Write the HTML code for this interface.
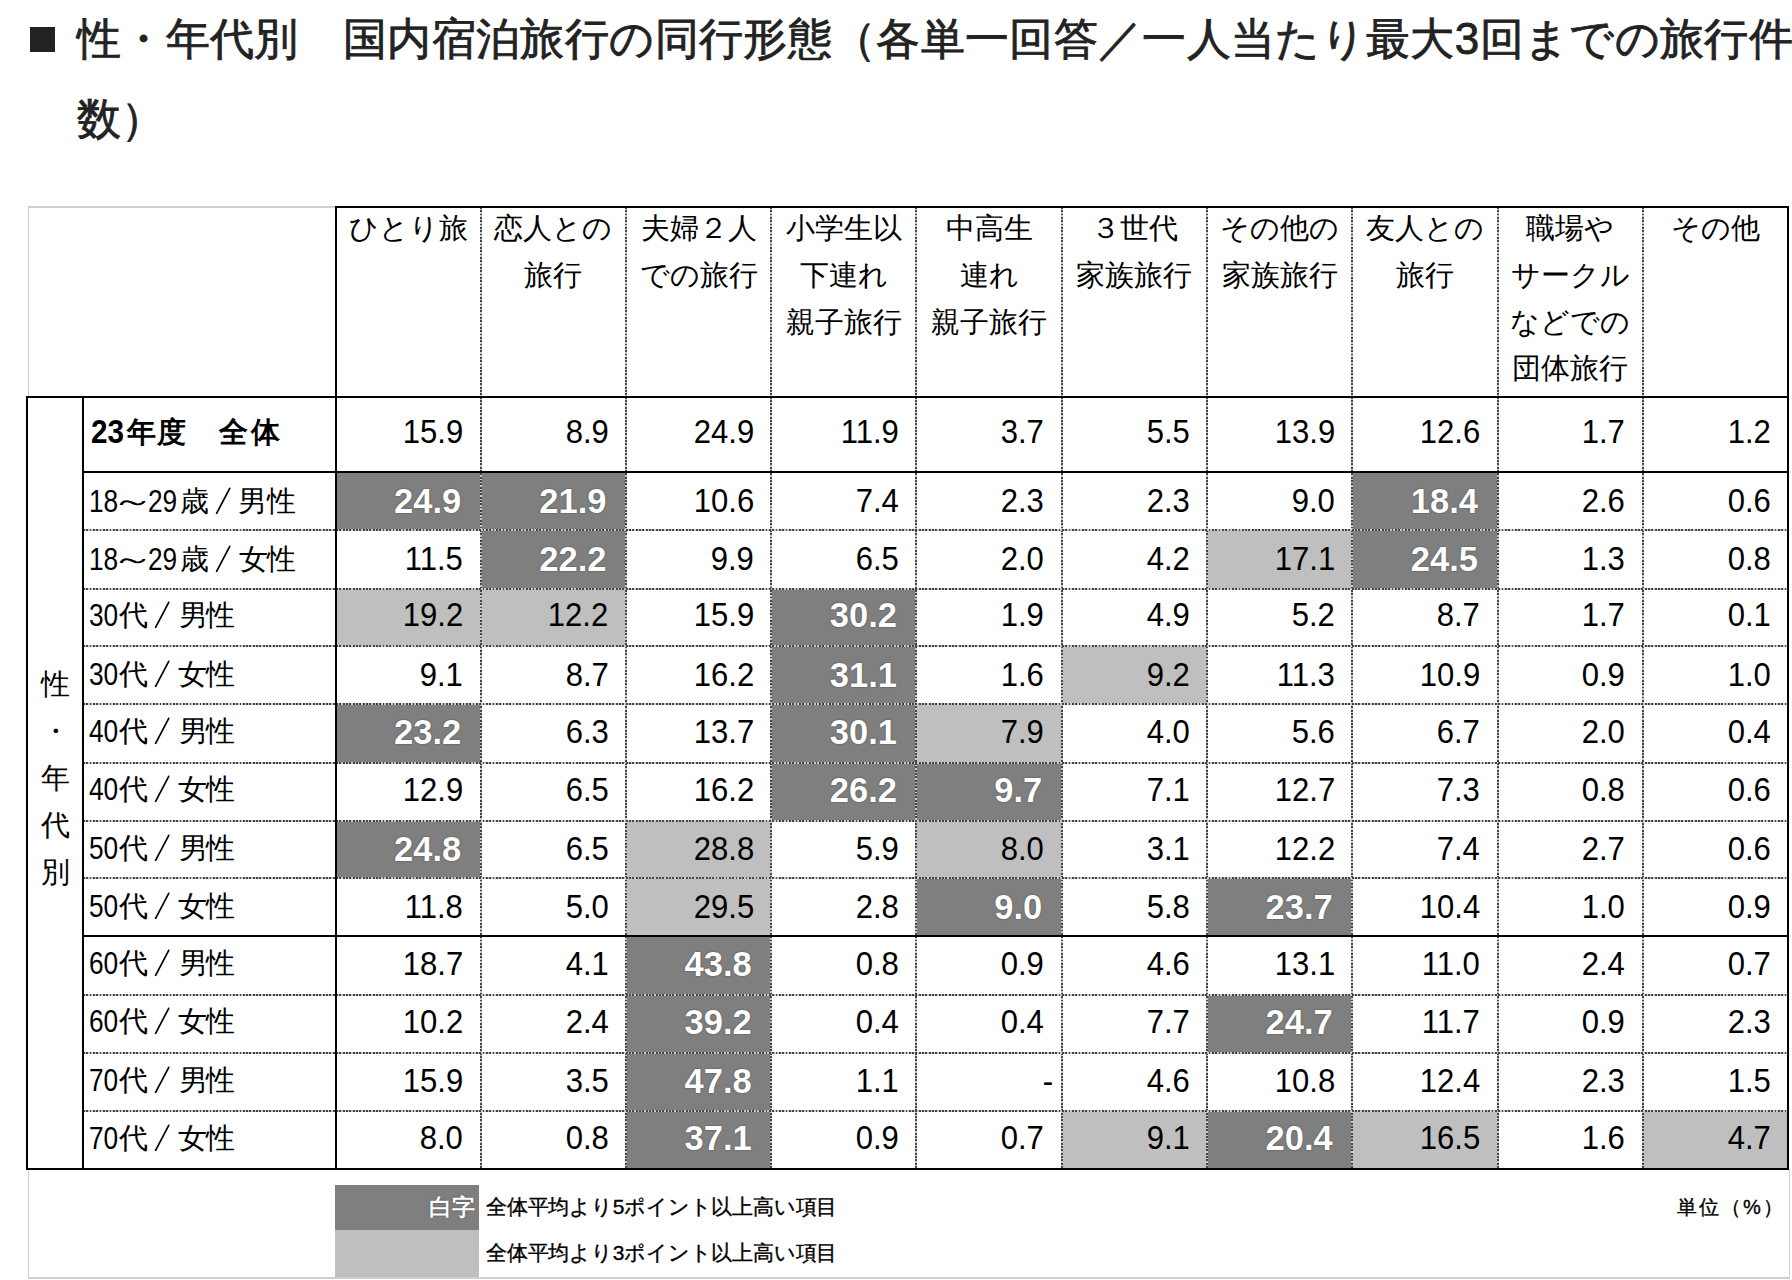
<!DOCTYPE html>
<html><head><meta charset="utf-8"><style>
html,body{margin:0;padding:0;background:#fff;}
body{width:1792px;height:1280px;overflow:hidden;position:relative;font-family:"Liberation Sans",sans-serif;color:#000;}
body>div{position:absolute;}
</style></head><body>
<div style="left:335.5px;top:471.8px;width:145.25px;height:58px;background:#7f7f7f"></div>
<div style="left:480.75px;top:471.8px;width:145.25px;height:58px;background:#7f7f7f"></div>
<div style="left:1352.25px;top:471.8px;width:145.25px;height:58px;background:#7f7f7f"></div>
<div style="left:480.75px;top:529.8px;width:145.25px;height:58.95px;background:#7f7f7f"></div>
<div style="left:1207px;top:529.8px;width:145.25px;height:58.95px;background:#bfbfbf"></div>
<div style="left:1352.25px;top:529.8px;width:145.25px;height:58.95px;background:#7f7f7f"></div>
<div style="left:335.5px;top:588.75px;width:145.25px;height:57.5px;background:#bfbfbf"></div>
<div style="left:480.75px;top:588.75px;width:145.25px;height:57.5px;background:#bfbfbf"></div>
<div style="left:771.25px;top:588.75px;width:145.25px;height:57.5px;background:#7f7f7f"></div>
<div style="left:771.25px;top:646.25px;width:145.25px;height:57.35px;background:#7f7f7f"></div>
<div style="left:1061.75px;top:646.25px;width:145.25px;height:57.35px;background:#bfbfbf"></div>
<div style="left:335.5px;top:703.6px;width:145.25px;height:59px;background:#7f7f7f"></div>
<div style="left:771.25px;top:703.6px;width:145.25px;height:59px;background:#7f7f7f"></div>
<div style="left:916.5px;top:703.6px;width:145.25px;height:59px;background:#bfbfbf"></div>
<div style="left:771.25px;top:762.6px;width:145.25px;height:58.2px;background:#7f7f7f"></div>
<div style="left:916.5px;top:762.6px;width:145.25px;height:58.2px;background:#7f7f7f"></div>
<div style="left:335.5px;top:820.8px;width:145.25px;height:57.6px;background:#7f7f7f"></div>
<div style="left:626px;top:820.8px;width:145.25px;height:57.6px;background:#bfbfbf"></div>
<div style="left:916.5px;top:820.8px;width:145.25px;height:57.6px;background:#bfbfbf"></div>
<div style="left:626px;top:878.4px;width:145.25px;height:58.1px;background:#bfbfbf"></div>
<div style="left:916.5px;top:878.4px;width:145.25px;height:58.1px;background:#7f7f7f"></div>
<div style="left:1207px;top:878.4px;width:145.25px;height:58.1px;background:#7f7f7f"></div>
<div style="left:626px;top:936.5px;width:145.25px;height:58.6px;background:#7f7f7f"></div>
<div style="left:626px;top:995.1px;width:145.25px;height:57.6px;background:#7f7f7f"></div>
<div style="left:1207px;top:995.1px;width:145.25px;height:57.6px;background:#7f7f7f"></div>
<div style="left:626px;top:1052.7px;width:145.25px;height:58.1px;background:#7f7f7f"></div>
<div style="left:626px;top:1110.8px;width:145.25px;height:58px;background:#7f7f7f"></div>
<div style="left:1061.75px;top:1110.8px;width:145.25px;height:58px;background:#bfbfbf"></div>
<div style="left:1207px;top:1110.8px;width:145.25px;height:58px;background:#7f7f7f"></div>
<div style="left:1352.25px;top:1110.8px;width:145.25px;height:58px;background:#bfbfbf"></div>
<div style="left:1642.75px;top:1110.8px;width:145.25px;height:58px;background:#bfbfbf"></div>
<div style="left:335px;top:1185px;width:144px;height:44.5px;background:#7f7f7f"></div>
<div style="left:335px;top:1229.5px;width:144px;height:47.5px;background:#bfbfbf"></div>
<div style="left:27.5px;top:206px;width:1.5px;height:191px;background:#cfcfcf"></div>
<div style="left:27.5px;top:206px;width:308px;height:1.5px;background:#cfcfcf"></div>
<div style="left:27.5px;top:1169px;width:1.5px;height:109.5px;background:#cfcfcf"></div>
<div style="left:27.5px;top:1277px;width:1762px;height:2px;background:#cfcfcf"></div>
<div style="left:1788.5px;top:1169px;width:1.5px;height:109.5px;background:#cfcfcf"></div>
<div style="left:480px;top:207px;width:2px;height:962px;background:repeating-linear-gradient(to bottom,#444 0,#444 1.8px,#c8c8c8 1.8px,#c8c8c8 3.33px)"></div>
<div style="left:625px;top:207px;width:2px;height:962px;background:repeating-linear-gradient(to bottom,#444 0,#444 1.8px,#c8c8c8 1.8px,#c8c8c8 3.33px)"></div>
<div style="left:770px;top:207px;width:2px;height:962px;background:repeating-linear-gradient(to bottom,#444 0,#444 1.8px,#c8c8c8 1.8px,#c8c8c8 3.33px)"></div>
<div style="left:915px;top:207px;width:2px;height:962px;background:repeating-linear-gradient(to bottom,#444 0,#444 1.8px,#c8c8c8 1.8px,#c8c8c8 3.33px)"></div>
<div style="left:1061px;top:207px;width:2px;height:962px;background:repeating-linear-gradient(to bottom,#444 0,#444 1.8px,#c8c8c8 1.8px,#c8c8c8 3.33px)"></div>
<div style="left:1206px;top:207px;width:2px;height:962px;background:repeating-linear-gradient(to bottom,#444 0,#444 1.8px,#c8c8c8 1.8px,#c8c8c8 3.33px)"></div>
<div style="left:1351px;top:207px;width:2px;height:962px;background:repeating-linear-gradient(to bottom,#444 0,#444 1.8px,#c8c8c8 1.8px,#c8c8c8 3.33px)"></div>
<div style="left:1497px;top:207px;width:2px;height:962px;background:repeating-linear-gradient(to bottom,#444 0,#444 1.8px,#c8c8c8 1.8px,#c8c8c8 3.33px)"></div>
<div style="left:1642px;top:207px;width:2px;height:962px;background:repeating-linear-gradient(to bottom,#444 0,#444 1.8px,#c8c8c8 1.8px,#c8c8c8 3.33px)"></div>
<div style="left:83px;top:529px;width:1704px;height:2px;background:repeating-linear-gradient(to right,#444 0,#444 1.8px,#c8c8c8 1.8px,#c8c8c8 3.33px)"></div>
<div style="left:83px;top:588px;width:1704px;height:2px;background:repeating-linear-gradient(to right,#444 0,#444 1.8px,#c8c8c8 1.8px,#c8c8c8 3.33px)"></div>
<div style="left:83px;top:645px;width:1704px;height:2px;background:repeating-linear-gradient(to right,#444 0,#444 1.8px,#c8c8c8 1.8px,#c8c8c8 3.33px)"></div>
<div style="left:83px;top:703px;width:1704px;height:2px;background:repeating-linear-gradient(to right,#444 0,#444 1.8px,#c8c8c8 1.8px,#c8c8c8 3.33px)"></div>
<div style="left:83px;top:762px;width:1704px;height:2px;background:repeating-linear-gradient(to right,#444 0,#444 1.8px,#c8c8c8 1.8px,#c8c8c8 3.33px)"></div>
<div style="left:83px;top:820px;width:1704px;height:2px;background:repeating-linear-gradient(to right,#444 0,#444 1.8px,#c8c8c8 1.8px,#c8c8c8 3.33px)"></div>
<div style="left:83px;top:877px;width:1704px;height:2px;background:repeating-linear-gradient(to right,#444 0,#444 1.8px,#c8c8c8 1.8px,#c8c8c8 3.33px)"></div>
<div style="left:83px;top:994px;width:1704px;height:2px;background:repeating-linear-gradient(to right,#444 0,#444 1.8px,#c8c8c8 1.8px,#c8c8c8 3.33px)"></div>
<div style="left:83px;top:1052px;width:1704px;height:2px;background:repeating-linear-gradient(to right,#444 0,#444 1.8px,#c8c8c8 1.8px,#c8c8c8 3.33px)"></div>
<div style="left:83px;top:1110px;width:1704px;height:2px;background:repeating-linear-gradient(to right,#444 0,#444 1.8px,#c8c8c8 1.8px,#c8c8c8 3.33px)"></div>
<div style="left:334.5px;top:205.5px;width:2px;height:964.5px;background:#000"></div>
<div style="left:1787px;top:205.5px;width:2px;height:964.5px;background:#000"></div>
<div style="left:334.5px;top:205.5px;width:1454.5px;height:2px;background:#000"></div>
<div style="left:26px;top:396px;width:1763px;height:2px;background:#000"></div>
<div style="left:26px;top:396px;width:2px;height:774px;background:#000"></div>
<div style="left:81.5px;top:396px;width:2px;height:774px;background:#000"></div>
<div style="left:82px;top:471px;width:1706px;height:2px;background:#000"></div>
<div style="left:82px;top:935px;width:1706px;height:2px;background:#000"></div>
<div style="left:26px;top:1168px;width:1763px;height:2px;background:#000"></div>
<div style="left:335.5px;top:205.2px;width:145.25px;height:46.7px;line-height:46.7px;text-align:center;font-size:29px;white-space:nowrap">ひとり旅</div>
<div style="left:480.75px;top:205.2px;width:145.25px;height:46.7px;line-height:46.7px;text-align:center;font-size:29px;white-space:nowrap">恋人との</div>
<div style="left:480.75px;top:251.9px;width:145.25px;height:46.7px;line-height:46.7px;text-align:center;font-size:29px;white-space:nowrap">旅行</div>
<div style="left:626px;top:205.2px;width:145.25px;height:46.7px;line-height:46.7px;text-align:center;font-size:29px;white-space:nowrap">夫婦２人</div>
<div style="left:626px;top:251.9px;width:145.25px;height:46.7px;line-height:46.7px;text-align:center;font-size:29px;white-space:nowrap">での旅行</div>
<div style="left:771.25px;top:205.2px;width:145.25px;height:46.7px;line-height:46.7px;text-align:center;font-size:29px;white-space:nowrap">小学生以</div>
<div style="left:771.25px;top:251.9px;width:145.25px;height:46.7px;line-height:46.7px;text-align:center;font-size:29px;white-space:nowrap">下連れ</div>
<div style="left:771.25px;top:298.6px;width:145.25px;height:46.7px;line-height:46.7px;text-align:center;font-size:29px;white-space:nowrap">親子旅行</div>
<div style="left:916.5px;top:205.2px;width:145.25px;height:46.7px;line-height:46.7px;text-align:center;font-size:29px;white-space:nowrap">中高生</div>
<div style="left:916.5px;top:251.9px;width:145.25px;height:46.7px;line-height:46.7px;text-align:center;font-size:29px;white-space:nowrap">連れ</div>
<div style="left:916.5px;top:298.6px;width:145.25px;height:46.7px;line-height:46.7px;text-align:center;font-size:29px;white-space:nowrap">親子旅行</div>
<div style="left:1061.75px;top:205.2px;width:145.25px;height:46.7px;line-height:46.7px;text-align:center;font-size:29px;white-space:nowrap">３世代</div>
<div style="left:1061.75px;top:251.9px;width:145.25px;height:46.7px;line-height:46.7px;text-align:center;font-size:29px;white-space:nowrap">家族旅行</div>
<div style="left:1207px;top:205.2px;width:145.25px;height:46.7px;line-height:46.7px;text-align:center;font-size:29px;white-space:nowrap">その他の</div>
<div style="left:1207px;top:251.9px;width:145.25px;height:46.7px;line-height:46.7px;text-align:center;font-size:29px;white-space:nowrap">家族旅行</div>
<div style="left:1352.25px;top:205.2px;width:145.25px;height:46.7px;line-height:46.7px;text-align:center;font-size:29px;white-space:nowrap">友人との</div>
<div style="left:1352.25px;top:251.9px;width:145.25px;height:46.7px;line-height:46.7px;text-align:center;font-size:29px;white-space:nowrap">旅行</div>
<div style="left:1497.5px;top:205.2px;width:145.25px;height:46.7px;line-height:46.7px;text-align:center;font-size:29px;white-space:nowrap">職場や</div>
<div style="left:1497.5px;top:251.9px;width:145.25px;height:46.7px;line-height:46.7px;text-align:center;font-size:29px;white-space:nowrap">サークル</div>
<div style="left:1497.5px;top:298.6px;width:145.25px;height:46.7px;line-height:46.7px;text-align:center;font-size:29px;white-space:nowrap">などでの</div>
<div style="left:1497.5px;top:345.3px;width:145.25px;height:46.7px;line-height:46.7px;text-align:center;font-size:29px;white-space:nowrap">団体旅行</div>
<div style="left:1642.75px;top:205.2px;width:145.25px;height:46.7px;line-height:46.7px;text-align:center;font-size:29px;white-space:nowrap">その他</div>
<div style="left:90.75px;top:401.65px;width:200px;height:60px;line-height:60px;font-size:33px;font-weight:bold;transform:scaleX(0.9);transform-origin:0 50%;white-space:pre">23</div>
<div style="left:127.4px;top:401.65px;width:200px;height:60px;line-height:60px;font-size:29px;font-weight:bold;white-space:pre">年</div>
<div style="left:156.5px;top:401.65px;width:200px;height:60px;line-height:60px;font-size:29px;font-weight:bold;white-space:pre">度</div>
<div style="left:219.1px;top:401.65px;width:200px;height:60px;line-height:60px;font-size:29px;font-weight:bold;white-space:pre">全</div>
<div style="left:251px;top:401.65px;width:200px;height:60px;line-height:60px;font-size:29px;font-weight:bold;white-space:pre">体</div>
<div style="left:335.5px;top:402.15px;width:127.75px;height:60px;line-height:60px;text-align:right;font-size:33px;"><span style="display:inline-block;transform:scaleX(0.94);transform-origin:100% 50%">15.9</span></div>
<div style="left:480.75px;top:402.15px;width:127.75px;height:60px;line-height:60px;text-align:right;font-size:33px;"><span style="display:inline-block;transform:scaleX(0.94);transform-origin:100% 50%">8.9</span></div>
<div style="left:626px;top:402.15px;width:127.75px;height:60px;line-height:60px;text-align:right;font-size:33px;"><span style="display:inline-block;transform:scaleX(0.94);transform-origin:100% 50%">24.9</span></div>
<div style="left:771.25px;top:402.15px;width:127.75px;height:60px;line-height:60px;text-align:right;font-size:33px;"><span style="display:inline-block;transform:scaleX(0.94);transform-origin:100% 50%">11.9</span></div>
<div style="left:916.5px;top:402.15px;width:127.75px;height:60px;line-height:60px;text-align:right;font-size:33px;"><span style="display:inline-block;transform:scaleX(0.94);transform-origin:100% 50%">3.7</span></div>
<div style="left:1061.75px;top:402.15px;width:127.75px;height:60px;line-height:60px;text-align:right;font-size:33px;"><span style="display:inline-block;transform:scaleX(0.94);transform-origin:100% 50%">5.5</span></div>
<div style="left:1207px;top:402.15px;width:127.75px;height:60px;line-height:60px;text-align:right;font-size:33px;"><span style="display:inline-block;transform:scaleX(0.94);transform-origin:100% 50%">13.9</span></div>
<div style="left:1352.25px;top:402.15px;width:127.75px;height:60px;line-height:60px;text-align:right;font-size:33px;"><span style="display:inline-block;transform:scaleX(0.94);transform-origin:100% 50%">12.6</span></div>
<div style="left:1497.5px;top:402.15px;width:127.75px;height:60px;line-height:60px;text-align:right;font-size:33px;"><span style="display:inline-block;transform:scaleX(0.94);transform-origin:100% 50%">1.7</span></div>
<div style="left:1642.75px;top:402.15px;width:127.75px;height:60px;line-height:60px;text-align:right;font-size:33px;"><span style="display:inline-block;transform:scaleX(0.94);transform-origin:100% 50%">1.2</span></div>
<div style="left:88.8px;top:470.75px;width:200px;height:60px;line-height:60px;font-size:32px;transform:scaleX(0.82);transform-origin:0 50%;white-space:pre">18</div>
<div style="left:111.2px;top:470.75px;width:200px;height:60px;line-height:60px;font-size:29px;transform:scaleX(1.5);transform-origin:0 50%;white-space:pre">～</div>
<div style="left:148.2px;top:470.75px;width:200px;height:60px;line-height:60px;font-size:32px;transform:scaleX(0.82);transform-origin:0 50%;white-space:pre">29</div>
<div style="left:179.8px;top:470.75px;width:200px;height:60px;line-height:60px;font-size:29px;white-space:pre">歳</div>
<div style="left:213.7px;top:484.75px;width:20px;height:32px"><svg width="20" height="32" style="display:block"><line x1="2.6" y1="28.35" x2="15.75" y2="3.35" stroke="#000" stroke-width="1.7" stroke-linecap="round"/></svg></div>
<div style="left:237.6px;top:470.75px;width:200px;height:60px;line-height:60px;font-size:29px;white-space:pre">男</div>
<div style="left:267px;top:470.75px;width:200px;height:60px;line-height:60px;font-size:29px;white-space:pre">性</div>
<div style="left:335.5px;top:471.25px;width:125.75px;height:60px;line-height:60px;text-align:right;font-size:34.5px;color:#fff;font-weight:bold;text-shadow:0 0 1.5px #333;"><span style="display:inline-block;transform:scaleX(1.0);transform-origin:100% 50%">24.9</span></div>
<div style="left:480.75px;top:471.25px;width:125.75px;height:60px;line-height:60px;text-align:right;font-size:34.5px;color:#fff;font-weight:bold;text-shadow:0 0 1.5px #333;"><span style="display:inline-block;transform:scaleX(1.0);transform-origin:100% 50%">21.9</span></div>
<div style="left:626px;top:471.25px;width:127.75px;height:60px;line-height:60px;text-align:right;font-size:33px;"><span style="display:inline-block;transform:scaleX(0.94);transform-origin:100% 50%">10.6</span></div>
<div style="left:771.25px;top:471.25px;width:127.75px;height:60px;line-height:60px;text-align:right;font-size:33px;"><span style="display:inline-block;transform:scaleX(0.94);transform-origin:100% 50%">7.4</span></div>
<div style="left:916.5px;top:471.25px;width:127.75px;height:60px;line-height:60px;text-align:right;font-size:33px;"><span style="display:inline-block;transform:scaleX(0.94);transform-origin:100% 50%">2.3</span></div>
<div style="left:1061.75px;top:471.25px;width:127.75px;height:60px;line-height:60px;text-align:right;font-size:33px;"><span style="display:inline-block;transform:scaleX(0.94);transform-origin:100% 50%">2.3</span></div>
<div style="left:1207px;top:471.25px;width:127.75px;height:60px;line-height:60px;text-align:right;font-size:33px;"><span style="display:inline-block;transform:scaleX(0.94);transform-origin:100% 50%">9.0</span></div>
<div style="left:1352.25px;top:471.25px;width:125.75px;height:60px;line-height:60px;text-align:right;font-size:34.5px;color:#fff;font-weight:bold;text-shadow:0 0 1.5px #333;"><span style="display:inline-block;transform:scaleX(1.0);transform-origin:100% 50%">18.4</span></div>
<div style="left:1497.5px;top:471.25px;width:127.75px;height:60px;line-height:60px;text-align:right;font-size:33px;"><span style="display:inline-block;transform:scaleX(0.94);transform-origin:100% 50%">2.6</span></div>
<div style="left:1642.75px;top:471.25px;width:127.75px;height:60px;line-height:60px;text-align:right;font-size:33px;"><span style="display:inline-block;transform:scaleX(0.94);transform-origin:100% 50%">0.6</span></div>
<div style="left:88.8px;top:528.8px;width:200px;height:60px;line-height:60px;font-size:32px;transform:scaleX(0.82);transform-origin:0 50%;white-space:pre">18</div>
<div style="left:111.2px;top:528.8px;width:200px;height:60px;line-height:60px;font-size:29px;transform:scaleX(1.5);transform-origin:0 50%;white-space:pre">～</div>
<div style="left:148.2px;top:528.8px;width:200px;height:60px;line-height:60px;font-size:32px;transform:scaleX(0.82);transform-origin:0 50%;white-space:pre">29</div>
<div style="left:179.8px;top:528.8px;width:200px;height:60px;line-height:60px;font-size:29px;white-space:pre">歳</div>
<div style="left:213.7px;top:542.8px;width:20px;height:32px"><svg width="20" height="32" style="display:block"><line x1="2.6" y1="28.35" x2="15.75" y2="3.35" stroke="#000" stroke-width="1.7" stroke-linecap="round"/></svg></div>
<div style="left:238.6px;top:528.8px;width:200px;height:60px;line-height:60px;font-size:29px;white-space:pre">女</div>
<div style="left:267px;top:528.8px;width:200px;height:60px;line-height:60px;font-size:29px;white-space:pre">性</div>
<div style="left:335.5px;top:529.3px;width:127.75px;height:60px;line-height:60px;text-align:right;font-size:33px;"><span style="display:inline-block;transform:scaleX(0.94);transform-origin:100% 50%">11.5</span></div>
<div style="left:480.75px;top:529.3px;width:125.75px;height:60px;line-height:60px;text-align:right;font-size:34.5px;color:#fff;font-weight:bold;text-shadow:0 0 1.5px #333;"><span style="display:inline-block;transform:scaleX(1.0);transform-origin:100% 50%">22.2</span></div>
<div style="left:626px;top:529.3px;width:127.75px;height:60px;line-height:60px;text-align:right;font-size:33px;"><span style="display:inline-block;transform:scaleX(0.94);transform-origin:100% 50%">9.9</span></div>
<div style="left:771.25px;top:529.3px;width:127.75px;height:60px;line-height:60px;text-align:right;font-size:33px;"><span style="display:inline-block;transform:scaleX(0.94);transform-origin:100% 50%">6.5</span></div>
<div style="left:916.5px;top:529.3px;width:127.75px;height:60px;line-height:60px;text-align:right;font-size:33px;"><span style="display:inline-block;transform:scaleX(0.94);transform-origin:100% 50%">2.0</span></div>
<div style="left:1061.75px;top:529.3px;width:127.75px;height:60px;line-height:60px;text-align:right;font-size:33px;"><span style="display:inline-block;transform:scaleX(0.94);transform-origin:100% 50%">4.2</span></div>
<div style="left:1207px;top:529.3px;width:127.75px;height:60px;line-height:60px;text-align:right;font-size:33px;"><span style="display:inline-block;transform:scaleX(0.94);transform-origin:100% 50%">17.1</span></div>
<div style="left:1352.25px;top:529.3px;width:125.75px;height:60px;line-height:60px;text-align:right;font-size:34.5px;color:#fff;font-weight:bold;text-shadow:0 0 1.5px #333;"><span style="display:inline-block;transform:scaleX(1.0);transform-origin:100% 50%">24.5</span></div>
<div style="left:1497.5px;top:529.3px;width:127.75px;height:60px;line-height:60px;text-align:right;font-size:33px;"><span style="display:inline-block;transform:scaleX(0.94);transform-origin:100% 50%">1.3</span></div>
<div style="left:1642.75px;top:529.3px;width:127.75px;height:60px;line-height:60px;text-align:right;font-size:33px;"><span style="display:inline-block;transform:scaleX(0.94);transform-origin:100% 50%">0.8</span></div>
<div style="left:88.9px;top:584.85px;width:200px;height:60px;line-height:60px;font-size:32px;transform:scaleX(0.82);transform-origin:0 50%;white-space:pre">30</div>
<div style="left:118.8px;top:584.85px;width:200px;height:60px;line-height:60px;font-size:29px;white-space:pre">代</div>
<div style="left:153px;top:598.85px;width:20px;height:32px"><svg width="20" height="32" style="display:block"><line x1="2.6" y1="28.35" x2="15.75" y2="3.35" stroke="#000" stroke-width="1.7" stroke-linecap="round"/></svg></div>
<div style="left:178.5px;top:584.85px;width:200px;height:60px;line-height:60px;font-size:29px;white-space:pre">男</div>
<div style="left:206.4px;top:584.85px;width:200px;height:60px;line-height:60px;font-size:29px;white-space:pre">性</div>
<div style="left:335.5px;top:585.35px;width:127.75px;height:60px;line-height:60px;text-align:right;font-size:33px;"><span style="display:inline-block;transform:scaleX(0.94);transform-origin:100% 50%">19.2</span></div>
<div style="left:480.75px;top:585.35px;width:127.75px;height:60px;line-height:60px;text-align:right;font-size:33px;"><span style="display:inline-block;transform:scaleX(0.94);transform-origin:100% 50%">12.2</span></div>
<div style="left:626px;top:585.35px;width:127.75px;height:60px;line-height:60px;text-align:right;font-size:33px;"><span style="display:inline-block;transform:scaleX(0.94);transform-origin:100% 50%">15.9</span></div>
<div style="left:771.25px;top:585.35px;width:125.75px;height:60px;line-height:60px;text-align:right;font-size:34.5px;color:#fff;font-weight:bold;text-shadow:0 0 1.5px #333;"><span style="display:inline-block;transform:scaleX(1.0);transform-origin:100% 50%">30.2</span></div>
<div style="left:916.5px;top:585.35px;width:127.75px;height:60px;line-height:60px;text-align:right;font-size:33px;"><span style="display:inline-block;transform:scaleX(0.94);transform-origin:100% 50%">1.9</span></div>
<div style="left:1061.75px;top:585.35px;width:127.75px;height:60px;line-height:60px;text-align:right;font-size:33px;"><span style="display:inline-block;transform:scaleX(0.94);transform-origin:100% 50%">4.9</span></div>
<div style="left:1207px;top:585.35px;width:127.75px;height:60px;line-height:60px;text-align:right;font-size:33px;"><span style="display:inline-block;transform:scaleX(0.94);transform-origin:100% 50%">5.2</span></div>
<div style="left:1352.25px;top:585.35px;width:127.75px;height:60px;line-height:60px;text-align:right;font-size:33px;"><span style="display:inline-block;transform:scaleX(0.94);transform-origin:100% 50%">8.7</span></div>
<div style="left:1497.5px;top:585.35px;width:127.75px;height:60px;line-height:60px;text-align:right;font-size:33px;"><span style="display:inline-block;transform:scaleX(0.94);transform-origin:100% 50%">1.7</span></div>
<div style="left:1642.75px;top:585.35px;width:127.75px;height:60px;line-height:60px;text-align:right;font-size:33px;"><span style="display:inline-block;transform:scaleX(0.94);transform-origin:100% 50%">0.1</span></div>
<div style="left:88.9px;top:644.2px;width:200px;height:60px;line-height:60px;font-size:32px;transform:scaleX(0.82);transform-origin:0 50%;white-space:pre">30</div>
<div style="left:118.8px;top:644.2px;width:200px;height:60px;line-height:60px;font-size:29px;white-space:pre">代</div>
<div style="left:153px;top:658.2px;width:20px;height:32px"><svg width="20" height="32" style="display:block"><line x1="2.6" y1="28.35" x2="15.75" y2="3.35" stroke="#000" stroke-width="1.7" stroke-linecap="round"/></svg></div>
<div style="left:178.2px;top:644.2px;width:200px;height:60px;line-height:60px;font-size:29px;white-space:pre">女</div>
<div style="left:206.4px;top:644.2px;width:200px;height:60px;line-height:60px;font-size:29px;white-space:pre">性</div>
<div style="left:335.5px;top:644.7px;width:127.75px;height:60px;line-height:60px;text-align:right;font-size:33px;"><span style="display:inline-block;transform:scaleX(0.94);transform-origin:100% 50%">9.1</span></div>
<div style="left:480.75px;top:644.7px;width:127.75px;height:60px;line-height:60px;text-align:right;font-size:33px;"><span style="display:inline-block;transform:scaleX(0.94);transform-origin:100% 50%">8.7</span></div>
<div style="left:626px;top:644.7px;width:127.75px;height:60px;line-height:60px;text-align:right;font-size:33px;"><span style="display:inline-block;transform:scaleX(0.94);transform-origin:100% 50%">16.2</span></div>
<div style="left:771.25px;top:644.7px;width:125.75px;height:60px;line-height:60px;text-align:right;font-size:34.5px;color:#fff;font-weight:bold;text-shadow:0 0 1.5px #333;"><span style="display:inline-block;transform:scaleX(1.0);transform-origin:100% 50%">31.1</span></div>
<div style="left:916.5px;top:644.7px;width:127.75px;height:60px;line-height:60px;text-align:right;font-size:33px;"><span style="display:inline-block;transform:scaleX(0.94);transform-origin:100% 50%">1.6</span></div>
<div style="left:1061.75px;top:644.7px;width:127.75px;height:60px;line-height:60px;text-align:right;font-size:33px;"><span style="display:inline-block;transform:scaleX(0.94);transform-origin:100% 50%">9.2</span></div>
<div style="left:1207px;top:644.7px;width:127.75px;height:60px;line-height:60px;text-align:right;font-size:33px;"><span style="display:inline-block;transform:scaleX(0.94);transform-origin:100% 50%">11.3</span></div>
<div style="left:1352.25px;top:644.7px;width:127.75px;height:60px;line-height:60px;text-align:right;font-size:33px;"><span style="display:inline-block;transform:scaleX(0.94);transform-origin:100% 50%">10.9</span></div>
<div style="left:1497.5px;top:644.7px;width:127.75px;height:60px;line-height:60px;text-align:right;font-size:33px;"><span style="display:inline-block;transform:scaleX(0.94);transform-origin:100% 50%">0.9</span></div>
<div style="left:1642.75px;top:644.7px;width:127.75px;height:60px;line-height:60px;text-align:right;font-size:33px;"><span style="display:inline-block;transform:scaleX(0.94);transform-origin:100% 50%">1.0</span></div>
<div style="left:88.9px;top:701.4px;width:200px;height:60px;line-height:60px;font-size:32px;transform:scaleX(0.82);transform-origin:0 50%;white-space:pre">40</div>
<div style="left:118.8px;top:701.4px;width:200px;height:60px;line-height:60px;font-size:29px;white-space:pre">代</div>
<div style="left:153px;top:715.4px;width:20px;height:32px"><svg width="20" height="32" style="display:block"><line x1="2.6" y1="28.35" x2="15.75" y2="3.35" stroke="#000" stroke-width="1.7" stroke-linecap="round"/></svg></div>
<div style="left:178.5px;top:701.4px;width:200px;height:60px;line-height:60px;font-size:29px;white-space:pre">男</div>
<div style="left:206.4px;top:701.4px;width:200px;height:60px;line-height:60px;font-size:29px;white-space:pre">性</div>
<div style="left:335.5px;top:701.9px;width:125.75px;height:60px;line-height:60px;text-align:right;font-size:34.5px;color:#fff;font-weight:bold;text-shadow:0 0 1.5px #333;"><span style="display:inline-block;transform:scaleX(1.0);transform-origin:100% 50%">23.2</span></div>
<div style="left:480.75px;top:701.9px;width:127.75px;height:60px;line-height:60px;text-align:right;font-size:33px;"><span style="display:inline-block;transform:scaleX(0.94);transform-origin:100% 50%">6.3</span></div>
<div style="left:626px;top:701.9px;width:127.75px;height:60px;line-height:60px;text-align:right;font-size:33px;"><span style="display:inline-block;transform:scaleX(0.94);transform-origin:100% 50%">13.7</span></div>
<div style="left:771.25px;top:701.9px;width:125.75px;height:60px;line-height:60px;text-align:right;font-size:34.5px;color:#fff;font-weight:bold;text-shadow:0 0 1.5px #333;"><span style="display:inline-block;transform:scaleX(1.0);transform-origin:100% 50%">30.1</span></div>
<div style="left:916.5px;top:701.9px;width:127.75px;height:60px;line-height:60px;text-align:right;font-size:33px;"><span style="display:inline-block;transform:scaleX(0.94);transform-origin:100% 50%">7.9</span></div>
<div style="left:1061.75px;top:701.9px;width:127.75px;height:60px;line-height:60px;text-align:right;font-size:33px;"><span style="display:inline-block;transform:scaleX(0.94);transform-origin:100% 50%">4.0</span></div>
<div style="left:1207px;top:701.9px;width:127.75px;height:60px;line-height:60px;text-align:right;font-size:33px;"><span style="display:inline-block;transform:scaleX(0.94);transform-origin:100% 50%">5.6</span></div>
<div style="left:1352.25px;top:701.9px;width:127.75px;height:60px;line-height:60px;text-align:right;font-size:33px;"><span style="display:inline-block;transform:scaleX(0.94);transform-origin:100% 50%">6.7</span></div>
<div style="left:1497.5px;top:701.9px;width:127.75px;height:60px;line-height:60px;text-align:right;font-size:33px;"><span style="display:inline-block;transform:scaleX(0.94);transform-origin:100% 50%">2.0</span></div>
<div style="left:1642.75px;top:701.9px;width:127.75px;height:60px;line-height:60px;text-align:right;font-size:33px;"><span style="display:inline-block;transform:scaleX(0.94);transform-origin:100% 50%">0.4</span></div>
<div style="left:88.9px;top:759.1px;width:200px;height:60px;line-height:60px;font-size:32px;transform:scaleX(0.82);transform-origin:0 50%;white-space:pre">40</div>
<div style="left:118.8px;top:759.1px;width:200px;height:60px;line-height:60px;font-size:29px;white-space:pre">代</div>
<div style="left:153px;top:773.1px;width:20px;height:32px"><svg width="20" height="32" style="display:block"><line x1="2.6" y1="28.35" x2="15.75" y2="3.35" stroke="#000" stroke-width="1.7" stroke-linecap="round"/></svg></div>
<div style="left:178.2px;top:759.1px;width:200px;height:60px;line-height:60px;font-size:29px;white-space:pre">女</div>
<div style="left:206.4px;top:759.1px;width:200px;height:60px;line-height:60px;font-size:29px;white-space:pre">性</div>
<div style="left:335.5px;top:759.6px;width:127.75px;height:60px;line-height:60px;text-align:right;font-size:33px;"><span style="display:inline-block;transform:scaleX(0.94);transform-origin:100% 50%">12.9</span></div>
<div style="left:480.75px;top:759.6px;width:127.75px;height:60px;line-height:60px;text-align:right;font-size:33px;"><span style="display:inline-block;transform:scaleX(0.94);transform-origin:100% 50%">6.5</span></div>
<div style="left:626px;top:759.6px;width:127.75px;height:60px;line-height:60px;text-align:right;font-size:33px;"><span style="display:inline-block;transform:scaleX(0.94);transform-origin:100% 50%">16.2</span></div>
<div style="left:771.25px;top:759.6px;width:125.75px;height:60px;line-height:60px;text-align:right;font-size:34.5px;color:#fff;font-weight:bold;text-shadow:0 0 1.5px #333;"><span style="display:inline-block;transform:scaleX(1.0);transform-origin:100% 50%">26.2</span></div>
<div style="left:916.5px;top:759.6px;width:125.75px;height:60px;line-height:60px;text-align:right;font-size:34.5px;color:#fff;font-weight:bold;text-shadow:0 0 1.5px #333;"><span style="display:inline-block;transform:scaleX(1.0);transform-origin:100% 50%">9.7</span></div>
<div style="left:1061.75px;top:759.6px;width:127.75px;height:60px;line-height:60px;text-align:right;font-size:33px;"><span style="display:inline-block;transform:scaleX(0.94);transform-origin:100% 50%">7.1</span></div>
<div style="left:1207px;top:759.6px;width:127.75px;height:60px;line-height:60px;text-align:right;font-size:33px;"><span style="display:inline-block;transform:scaleX(0.94);transform-origin:100% 50%">12.7</span></div>
<div style="left:1352.25px;top:759.6px;width:127.75px;height:60px;line-height:60px;text-align:right;font-size:33px;"><span style="display:inline-block;transform:scaleX(0.94);transform-origin:100% 50%">7.3</span></div>
<div style="left:1497.5px;top:759.6px;width:127.75px;height:60px;line-height:60px;text-align:right;font-size:33px;"><span style="display:inline-block;transform:scaleX(0.94);transform-origin:100% 50%">0.8</span></div>
<div style="left:1642.75px;top:759.6px;width:127.75px;height:60px;line-height:60px;text-align:right;font-size:33px;"><span style="display:inline-block;transform:scaleX(0.94);transform-origin:100% 50%">0.6</span></div>
<div style="left:88.9px;top:818.1px;width:200px;height:60px;line-height:60px;font-size:32px;transform:scaleX(0.82);transform-origin:0 50%;white-space:pre">50</div>
<div style="left:118.8px;top:818.1px;width:200px;height:60px;line-height:60px;font-size:29px;white-space:pre">代</div>
<div style="left:153px;top:832.1px;width:20px;height:32px"><svg width="20" height="32" style="display:block"><line x1="2.6" y1="28.35" x2="15.75" y2="3.35" stroke="#000" stroke-width="1.7" stroke-linecap="round"/></svg></div>
<div style="left:178.5px;top:818.1px;width:200px;height:60px;line-height:60px;font-size:29px;white-space:pre">男</div>
<div style="left:206.4px;top:818.1px;width:200px;height:60px;line-height:60px;font-size:29px;white-space:pre">性</div>
<div style="left:335.5px;top:818.6px;width:125.75px;height:60px;line-height:60px;text-align:right;font-size:34.5px;color:#fff;font-weight:bold;text-shadow:0 0 1.5px #333;"><span style="display:inline-block;transform:scaleX(1.0);transform-origin:100% 50%">24.8</span></div>
<div style="left:480.75px;top:818.6px;width:127.75px;height:60px;line-height:60px;text-align:right;font-size:33px;"><span style="display:inline-block;transform:scaleX(0.94);transform-origin:100% 50%">6.5</span></div>
<div style="left:626px;top:818.6px;width:127.75px;height:60px;line-height:60px;text-align:right;font-size:33px;"><span style="display:inline-block;transform:scaleX(0.94);transform-origin:100% 50%">28.8</span></div>
<div style="left:771.25px;top:818.6px;width:127.75px;height:60px;line-height:60px;text-align:right;font-size:33px;"><span style="display:inline-block;transform:scaleX(0.94);transform-origin:100% 50%">5.9</span></div>
<div style="left:916.5px;top:818.6px;width:127.75px;height:60px;line-height:60px;text-align:right;font-size:33px;"><span style="display:inline-block;transform:scaleX(0.94);transform-origin:100% 50%">8.0</span></div>
<div style="left:1061.75px;top:818.6px;width:127.75px;height:60px;line-height:60px;text-align:right;font-size:33px;"><span style="display:inline-block;transform:scaleX(0.94);transform-origin:100% 50%">3.1</span></div>
<div style="left:1207px;top:818.6px;width:127.75px;height:60px;line-height:60px;text-align:right;font-size:33px;"><span style="display:inline-block;transform:scaleX(0.94);transform-origin:100% 50%">12.2</span></div>
<div style="left:1352.25px;top:818.6px;width:127.75px;height:60px;line-height:60px;text-align:right;font-size:33px;"><span style="display:inline-block;transform:scaleX(0.94);transform-origin:100% 50%">7.4</span></div>
<div style="left:1497.5px;top:818.6px;width:127.75px;height:60px;line-height:60px;text-align:right;font-size:33px;"><span style="display:inline-block;transform:scaleX(0.94);transform-origin:100% 50%">2.7</span></div>
<div style="left:1642.75px;top:818.6px;width:127.75px;height:60px;line-height:60px;text-align:right;font-size:33px;"><span style="display:inline-block;transform:scaleX(0.94);transform-origin:100% 50%">0.6</span></div>
<div style="left:88.9px;top:876.25px;width:200px;height:60px;line-height:60px;font-size:32px;transform:scaleX(0.82);transform-origin:0 50%;white-space:pre">50</div>
<div style="left:118.8px;top:876.25px;width:200px;height:60px;line-height:60px;font-size:29px;white-space:pre">代</div>
<div style="left:153px;top:890.25px;width:20px;height:32px"><svg width="20" height="32" style="display:block"><line x1="2.6" y1="28.35" x2="15.75" y2="3.35" stroke="#000" stroke-width="1.7" stroke-linecap="round"/></svg></div>
<div style="left:178.2px;top:876.25px;width:200px;height:60px;line-height:60px;font-size:29px;white-space:pre">女</div>
<div style="left:206.4px;top:876.25px;width:200px;height:60px;line-height:60px;font-size:29px;white-space:pre">性</div>
<div style="left:335.5px;top:876.75px;width:127.75px;height:60px;line-height:60px;text-align:right;font-size:33px;"><span style="display:inline-block;transform:scaleX(0.94);transform-origin:100% 50%">11.8</span></div>
<div style="left:480.75px;top:876.75px;width:127.75px;height:60px;line-height:60px;text-align:right;font-size:33px;"><span style="display:inline-block;transform:scaleX(0.94);transform-origin:100% 50%">5.0</span></div>
<div style="left:626px;top:876.75px;width:127.75px;height:60px;line-height:60px;text-align:right;font-size:33px;"><span style="display:inline-block;transform:scaleX(0.94);transform-origin:100% 50%">29.5</span></div>
<div style="left:771.25px;top:876.75px;width:127.75px;height:60px;line-height:60px;text-align:right;font-size:33px;"><span style="display:inline-block;transform:scaleX(0.94);transform-origin:100% 50%">2.8</span></div>
<div style="left:916.5px;top:876.75px;width:125.75px;height:60px;line-height:60px;text-align:right;font-size:34.5px;color:#fff;font-weight:bold;text-shadow:0 0 1.5px #333;"><span style="display:inline-block;transform:scaleX(1.0);transform-origin:100% 50%">9.0</span></div>
<div style="left:1061.75px;top:876.75px;width:127.75px;height:60px;line-height:60px;text-align:right;font-size:33px;"><span style="display:inline-block;transform:scaleX(0.94);transform-origin:100% 50%">5.8</span></div>
<div style="left:1207px;top:876.75px;width:125.75px;height:60px;line-height:60px;text-align:right;font-size:34.5px;color:#fff;font-weight:bold;text-shadow:0 0 1.5px #333;"><span style="display:inline-block;transform:scaleX(1.0);transform-origin:100% 50%">23.7</span></div>
<div style="left:1352.25px;top:876.75px;width:127.75px;height:60px;line-height:60px;text-align:right;font-size:33px;"><span style="display:inline-block;transform:scaleX(0.94);transform-origin:100% 50%">10.4</span></div>
<div style="left:1497.5px;top:876.75px;width:127.75px;height:60px;line-height:60px;text-align:right;font-size:33px;"><span style="display:inline-block;transform:scaleX(0.94);transform-origin:100% 50%">1.0</span></div>
<div style="left:1642.75px;top:876.75px;width:127.75px;height:60px;line-height:60px;text-align:right;font-size:33px;"><span style="display:inline-block;transform:scaleX(0.94);transform-origin:100% 50%">0.9</span></div>
<div style="left:88.9px;top:933.25px;width:200px;height:60px;line-height:60px;font-size:32px;transform:scaleX(0.82);transform-origin:0 50%;white-space:pre">60</div>
<div style="left:118.8px;top:933.25px;width:200px;height:60px;line-height:60px;font-size:29px;white-space:pre">代</div>
<div style="left:153px;top:947.25px;width:20px;height:32px"><svg width="20" height="32" style="display:block"><line x1="2.6" y1="28.35" x2="15.75" y2="3.35" stroke="#000" stroke-width="1.7" stroke-linecap="round"/></svg></div>
<div style="left:178.5px;top:933.25px;width:200px;height:60px;line-height:60px;font-size:29px;white-space:pre">男</div>
<div style="left:206.4px;top:933.25px;width:200px;height:60px;line-height:60px;font-size:29px;white-space:pre">性</div>
<div style="left:335.5px;top:933.75px;width:127.75px;height:60px;line-height:60px;text-align:right;font-size:33px;"><span style="display:inline-block;transform:scaleX(0.94);transform-origin:100% 50%">18.7</span></div>
<div style="left:480.75px;top:933.75px;width:127.75px;height:60px;line-height:60px;text-align:right;font-size:33px;"><span style="display:inline-block;transform:scaleX(0.94);transform-origin:100% 50%">4.1</span></div>
<div style="left:626px;top:933.75px;width:125.75px;height:60px;line-height:60px;text-align:right;font-size:34.5px;color:#fff;font-weight:bold;text-shadow:0 0 1.5px #333;"><span style="display:inline-block;transform:scaleX(1.0);transform-origin:100% 50%">43.8</span></div>
<div style="left:771.25px;top:933.75px;width:127.75px;height:60px;line-height:60px;text-align:right;font-size:33px;"><span style="display:inline-block;transform:scaleX(0.94);transform-origin:100% 50%">0.8</span></div>
<div style="left:916.5px;top:933.75px;width:127.75px;height:60px;line-height:60px;text-align:right;font-size:33px;"><span style="display:inline-block;transform:scaleX(0.94);transform-origin:100% 50%">0.9</span></div>
<div style="left:1061.75px;top:933.75px;width:127.75px;height:60px;line-height:60px;text-align:right;font-size:33px;"><span style="display:inline-block;transform:scaleX(0.94);transform-origin:100% 50%">4.6</span></div>
<div style="left:1207px;top:933.75px;width:127.75px;height:60px;line-height:60px;text-align:right;font-size:33px;"><span style="display:inline-block;transform:scaleX(0.94);transform-origin:100% 50%">13.1</span></div>
<div style="left:1352.25px;top:933.75px;width:127.75px;height:60px;line-height:60px;text-align:right;font-size:33px;"><span style="display:inline-block;transform:scaleX(0.94);transform-origin:100% 50%">11.0</span></div>
<div style="left:1497.5px;top:933.75px;width:127.75px;height:60px;line-height:60px;text-align:right;font-size:33px;"><span style="display:inline-block;transform:scaleX(0.94);transform-origin:100% 50%">2.4</span></div>
<div style="left:1642.75px;top:933.75px;width:127.75px;height:60px;line-height:60px;text-align:right;font-size:33px;"><span style="display:inline-block;transform:scaleX(0.94);transform-origin:100% 50%">0.7</span></div>
<div style="left:88.9px;top:991.4px;width:200px;height:60px;line-height:60px;font-size:32px;transform:scaleX(0.82);transform-origin:0 50%;white-space:pre">60</div>
<div style="left:118.8px;top:991.4px;width:200px;height:60px;line-height:60px;font-size:29px;white-space:pre">代</div>
<div style="left:153px;top:1005.4px;width:20px;height:32px"><svg width="20" height="32" style="display:block"><line x1="2.6" y1="28.35" x2="15.75" y2="3.35" stroke="#000" stroke-width="1.7" stroke-linecap="round"/></svg></div>
<div style="left:178.2px;top:991.4px;width:200px;height:60px;line-height:60px;font-size:29px;white-space:pre">女</div>
<div style="left:206.4px;top:991.4px;width:200px;height:60px;line-height:60px;font-size:29px;white-space:pre">性</div>
<div style="left:335.5px;top:991.9px;width:127.75px;height:60px;line-height:60px;text-align:right;font-size:33px;"><span style="display:inline-block;transform:scaleX(0.94);transform-origin:100% 50%">10.2</span></div>
<div style="left:480.75px;top:991.9px;width:127.75px;height:60px;line-height:60px;text-align:right;font-size:33px;"><span style="display:inline-block;transform:scaleX(0.94);transform-origin:100% 50%">2.4</span></div>
<div style="left:626px;top:991.9px;width:125.75px;height:60px;line-height:60px;text-align:right;font-size:34.5px;color:#fff;font-weight:bold;text-shadow:0 0 1.5px #333;"><span style="display:inline-block;transform:scaleX(1.0);transform-origin:100% 50%">39.2</span></div>
<div style="left:771.25px;top:991.9px;width:127.75px;height:60px;line-height:60px;text-align:right;font-size:33px;"><span style="display:inline-block;transform:scaleX(0.94);transform-origin:100% 50%">0.4</span></div>
<div style="left:916.5px;top:991.9px;width:127.75px;height:60px;line-height:60px;text-align:right;font-size:33px;"><span style="display:inline-block;transform:scaleX(0.94);transform-origin:100% 50%">0.4</span></div>
<div style="left:1061.75px;top:991.9px;width:127.75px;height:60px;line-height:60px;text-align:right;font-size:33px;"><span style="display:inline-block;transform:scaleX(0.94);transform-origin:100% 50%">7.7</span></div>
<div style="left:1207px;top:991.9px;width:125.75px;height:60px;line-height:60px;text-align:right;font-size:34.5px;color:#fff;font-weight:bold;text-shadow:0 0 1.5px #333;"><span style="display:inline-block;transform:scaleX(1.0);transform-origin:100% 50%">24.7</span></div>
<div style="left:1352.25px;top:991.9px;width:127.75px;height:60px;line-height:60px;text-align:right;font-size:33px;"><span style="display:inline-block;transform:scaleX(0.94);transform-origin:100% 50%">11.7</span></div>
<div style="left:1497.5px;top:991.9px;width:127.75px;height:60px;line-height:60px;text-align:right;font-size:33px;"><span style="display:inline-block;transform:scaleX(0.94);transform-origin:100% 50%">0.9</span></div>
<div style="left:1642.75px;top:991.9px;width:127.75px;height:60px;line-height:60px;text-align:right;font-size:33px;"><span style="display:inline-block;transform:scaleX(0.94);transform-origin:100% 50%">2.3</span></div>
<div style="left:88.9px;top:1050px;width:200px;height:60px;line-height:60px;font-size:32px;transform:scaleX(0.82);transform-origin:0 50%;white-space:pre">70</div>
<div style="left:118.8px;top:1050px;width:200px;height:60px;line-height:60px;font-size:29px;white-space:pre">代</div>
<div style="left:153px;top:1064px;width:20px;height:32px"><svg width="20" height="32" style="display:block"><line x1="2.6" y1="28.35" x2="15.75" y2="3.35" stroke="#000" stroke-width="1.7" stroke-linecap="round"/></svg></div>
<div style="left:178.5px;top:1050px;width:200px;height:60px;line-height:60px;font-size:29px;white-space:pre">男</div>
<div style="left:206.4px;top:1050px;width:200px;height:60px;line-height:60px;font-size:29px;white-space:pre">性</div>
<div style="left:335.5px;top:1050.5px;width:127.75px;height:60px;line-height:60px;text-align:right;font-size:33px;"><span style="display:inline-block;transform:scaleX(0.94);transform-origin:100% 50%">15.9</span></div>
<div style="left:480.75px;top:1050.5px;width:127.75px;height:60px;line-height:60px;text-align:right;font-size:33px;"><span style="display:inline-block;transform:scaleX(0.94);transform-origin:100% 50%">3.5</span></div>
<div style="left:626px;top:1050.5px;width:125.75px;height:60px;line-height:60px;text-align:right;font-size:34.5px;color:#fff;font-weight:bold;text-shadow:0 0 1.5px #333;"><span style="display:inline-block;transform:scaleX(1.0);transform-origin:100% 50%">47.8</span></div>
<div style="left:771.25px;top:1050.5px;width:127.75px;height:60px;line-height:60px;text-align:right;font-size:33px;"><span style="display:inline-block;transform:scaleX(0.94);transform-origin:100% 50%">1.1</span></div>
<div style="left:916.5px;top:1052px;width:136.25px;height:60px;line-height:60px;text-align:right;font-size:33px;"><span style="display:inline-block;transform:scaleX(0.94);transform-origin:100% 50%">-</span></div>
<div style="left:1061.75px;top:1050.5px;width:127.75px;height:60px;line-height:60px;text-align:right;font-size:33px;"><span style="display:inline-block;transform:scaleX(0.94);transform-origin:100% 50%">4.6</span></div>
<div style="left:1207px;top:1050.5px;width:127.75px;height:60px;line-height:60px;text-align:right;font-size:33px;"><span style="display:inline-block;transform:scaleX(0.94);transform-origin:100% 50%">10.8</span></div>
<div style="left:1352.25px;top:1050.5px;width:127.75px;height:60px;line-height:60px;text-align:right;font-size:33px;"><span style="display:inline-block;transform:scaleX(0.94);transform-origin:100% 50%">12.4</span></div>
<div style="left:1497.5px;top:1050.5px;width:127.75px;height:60px;line-height:60px;text-align:right;font-size:33px;"><span style="display:inline-block;transform:scaleX(0.94);transform-origin:100% 50%">2.3</span></div>
<div style="left:1642.75px;top:1050.5px;width:127.75px;height:60px;line-height:60px;text-align:right;font-size:33px;"><span style="display:inline-block;transform:scaleX(0.94);transform-origin:100% 50%">1.5</span></div>
<div style="left:88.9px;top:1107.65px;width:200px;height:60px;line-height:60px;font-size:32px;transform:scaleX(0.82);transform-origin:0 50%;white-space:pre">70</div>
<div style="left:118.8px;top:1107.65px;width:200px;height:60px;line-height:60px;font-size:29px;white-space:pre">代</div>
<div style="left:153px;top:1121.65px;width:20px;height:32px"><svg width="20" height="32" style="display:block"><line x1="2.6" y1="28.35" x2="15.75" y2="3.35" stroke="#000" stroke-width="1.7" stroke-linecap="round"/></svg></div>
<div style="left:178.2px;top:1107.65px;width:200px;height:60px;line-height:60px;font-size:29px;white-space:pre">女</div>
<div style="left:206.4px;top:1107.65px;width:200px;height:60px;line-height:60px;font-size:29px;white-space:pre">性</div>
<div style="left:335.5px;top:1108.15px;width:127.75px;height:60px;line-height:60px;text-align:right;font-size:33px;"><span style="display:inline-block;transform:scaleX(0.94);transform-origin:100% 50%">8.0</span></div>
<div style="left:480.75px;top:1108.15px;width:127.75px;height:60px;line-height:60px;text-align:right;font-size:33px;"><span style="display:inline-block;transform:scaleX(0.94);transform-origin:100% 50%">0.8</span></div>
<div style="left:626px;top:1108.15px;width:125.75px;height:60px;line-height:60px;text-align:right;font-size:34.5px;color:#fff;font-weight:bold;text-shadow:0 0 1.5px #333;"><span style="display:inline-block;transform:scaleX(1.0);transform-origin:100% 50%">37.1</span></div>
<div style="left:771.25px;top:1108.15px;width:127.75px;height:60px;line-height:60px;text-align:right;font-size:33px;"><span style="display:inline-block;transform:scaleX(0.94);transform-origin:100% 50%">0.9</span></div>
<div style="left:916.5px;top:1108.15px;width:127.75px;height:60px;line-height:60px;text-align:right;font-size:33px;"><span style="display:inline-block;transform:scaleX(0.94);transform-origin:100% 50%">0.7</span></div>
<div style="left:1061.75px;top:1108.15px;width:127.75px;height:60px;line-height:60px;text-align:right;font-size:33px;"><span style="display:inline-block;transform:scaleX(0.94);transform-origin:100% 50%">9.1</span></div>
<div style="left:1207px;top:1108.15px;width:125.75px;height:60px;line-height:60px;text-align:right;font-size:34.5px;color:#fff;font-weight:bold;text-shadow:0 0 1.5px #333;"><span style="display:inline-block;transform:scaleX(1.0);transform-origin:100% 50%">20.4</span></div>
<div style="left:1352.25px;top:1108.15px;width:127.75px;height:60px;line-height:60px;text-align:right;font-size:33px;"><span style="display:inline-block;transform:scaleX(0.94);transform-origin:100% 50%">16.5</span></div>
<div style="left:1497.5px;top:1108.15px;width:127.75px;height:60px;line-height:60px;text-align:right;font-size:33px;"><span style="display:inline-block;transform:scaleX(0.94);transform-origin:100% 50%">1.6</span></div>
<div style="left:1642.75px;top:1108.15px;width:127.75px;height:60px;line-height:60px;text-align:right;font-size:33px;"><span style="display:inline-block;transform:scaleX(0.94);transform-origin:100% 50%">4.7</span></div>
<div style="left:28px;top:661px;width:54px;height:47px;line-height:47px;text-align:center;font-size:29px">性</div>
<div style="left:28px;top:708px;width:54px;height:47px;line-height:47px;text-align:center;font-size:29px">・</div>
<div style="left:28px;top:755px;width:54px;height:47px;line-height:47px;text-align:center;font-size:29px">年</div>
<div style="left:28px;top:802px;width:54px;height:47px;line-height:47px;text-align:center;font-size:29px">代</div>
<div style="left:28px;top:849px;width:54px;height:47px;line-height:47px;text-align:center;font-size:29px">別</div>
<div style="left:335px;top:1185px;width:140px;height:44.5px;line-height:44.5px;text-align:right;font-size:23px;color:#fff;font-weight:bold;text-shadow:0 0 1.5px #333">白字</div>
<div style="left:486px;top:1185px;width:400px;height:44.5px;line-height:44.5px;font-size:21px;white-space:nowrap;letter-spacing:-0.2px;-webkit-text-stroke:0.35px #000">全体平均より5ポイント以上高い項目</div>
<div style="left:486px;top:1231px;width:400px;height:44.5px;line-height:44.5px;font-size:21px;white-space:nowrap;letter-spacing:-0.2px;-webkit-text-stroke:0.35px #000">全体平均より3ポイント以上高い項目</div>
<div style="left:1677px;top:1185px;width:170px;height:44.5px;line-height:44.5px;font-size:20px;letter-spacing:2px;white-space:nowrap;-webkit-text-stroke:0.35px #000">単位（%）</div>
<div style="left:30px;top:27px;width:25px;height:24.5px;background:#222"></div>
<div style="left:77px;top:0px;width:1750px;height:78px;line-height:78px;font-size:44px;white-space:nowrap;letter-spacing:0.35px;color:#222;-webkit-text-stroke:0.8px #222">性・年代別　国内宿泊旅行の同行形態（各単一回答／一人当たり最大3回までの旅行件</div>
<div style="left:77px;top:80px;width:400px;height:78px;line-height:78px;font-size:44px;white-space:nowrap;letter-spacing:0.35px;color:#222;-webkit-text-stroke:0.8px #222">数）</div>
</body></html>
